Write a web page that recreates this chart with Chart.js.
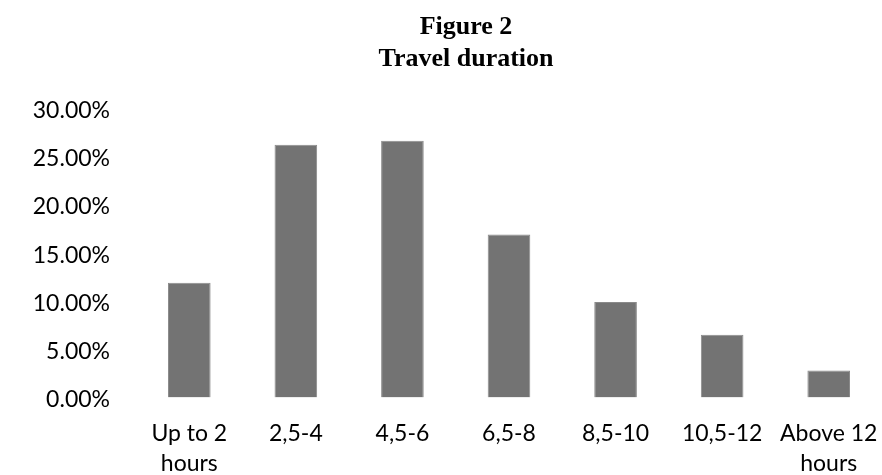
<!DOCTYPE html>
<html lang="en">
<head>
    <meta charset="UTF-8">
    <title>Figure 2 - Travel duration</title>
    <script src="https://cdn.jsdelivr.net/npm/chart.js"></script>
    <style>
        html, body { margin: 0; padding: 0; background: #fff; }
        #wrap { width: 882px; height: 475px; }
    </style>
</head>
<body>
    <div id="wrap"><canvas id="travelChart"></canvas></div>

    <script>
    // Values (percent of respondents)
    const categories = [['Up to 2', 'hours'], '2,5-4', '4,5-6', '6,5-8', '8,5-10', '10,5-12', ['Above 12', 'hours']];
    const shares = [11.9, 26.2, 26.6, 16.9, 9.9, 6.5, 2.8];
    const yTicks = [0, 5, 10, 15, 20, 25, 30];
    const titleLines = ['Figure 2', 'Travel duration'];

    // the title in the original sits a bit right of the page centre
    const shiftTitle = {
        id: 'shiftTitle',
        afterLayout(chart) {
            if (chart.titleBlock) chart.titleBlock.left += 50;
        }
    };

    new Chart(document.getElementById('travelChart'), {
        type: 'bar',
        data: {
            labels: categories,
            datasets: [{
                data: shares,
                backgroundColor: '#737373',
                borderColor: '#8a8a8a',
                borderWidth: 1,
                categoryPercentage: 1,
                barPercentage: 0.4
            }]
        },
        options: {
            responsive: true,
            maintainAspectRatio: false,
            animation: false,
            plugins: {
                legend: {display: false},
                tooltip: {enabled: false},
                title: {
                    display: true,
                    text: titleLines,
                    color: '#000',
                    font: {family: '"Liberation Serif", "Times New Roman", serif', size: 26, weight: 'bold', lineHeight: 1.23},
                    padding: {top: 11, bottom: 33}
                }
            },
            scales: {
                x: {
                    grid: {display: false, drawTicks: false},
                    border: {display: false},
                    ticks: {
                        color: '#000',
                        padding: 21,
                        maxRotation: 0,
                        autoSkip: false,
                        font: {family: 'Lato, "Liberation Sans", sans-serif', size: 23, lineHeight: 1.3}
                    },
                    afterFit: (scale) => {
                        scale.height = 77.5;
                        scale.paddingLeft = 0;
                        scale.paddingRight = 0;
                    }
                },
                y: {
                    min: 0,
                    max: 30,
                    grid: {display: false, drawTicks: false},
                    border: {display: false},
                    afterBuildTicks: (scale) => { scale.ticks = yTicks.map(v => ({value: v})); },
                    ticks: {
                        color: '#000',
                        padding: 26,
                        labelOffset: 2.5,
                        font: {family: 'Lato, "Liberation Sans", sans-serif', size: 23},
                        callback: (v) => Number(v).toFixed(2) + '%'
                    },
                    afterFit: (scale) => { scale.width = 136; }
                }
            }
        },
        plugins: [shiftTitle]
    });
    </script>
</body>
</html>
